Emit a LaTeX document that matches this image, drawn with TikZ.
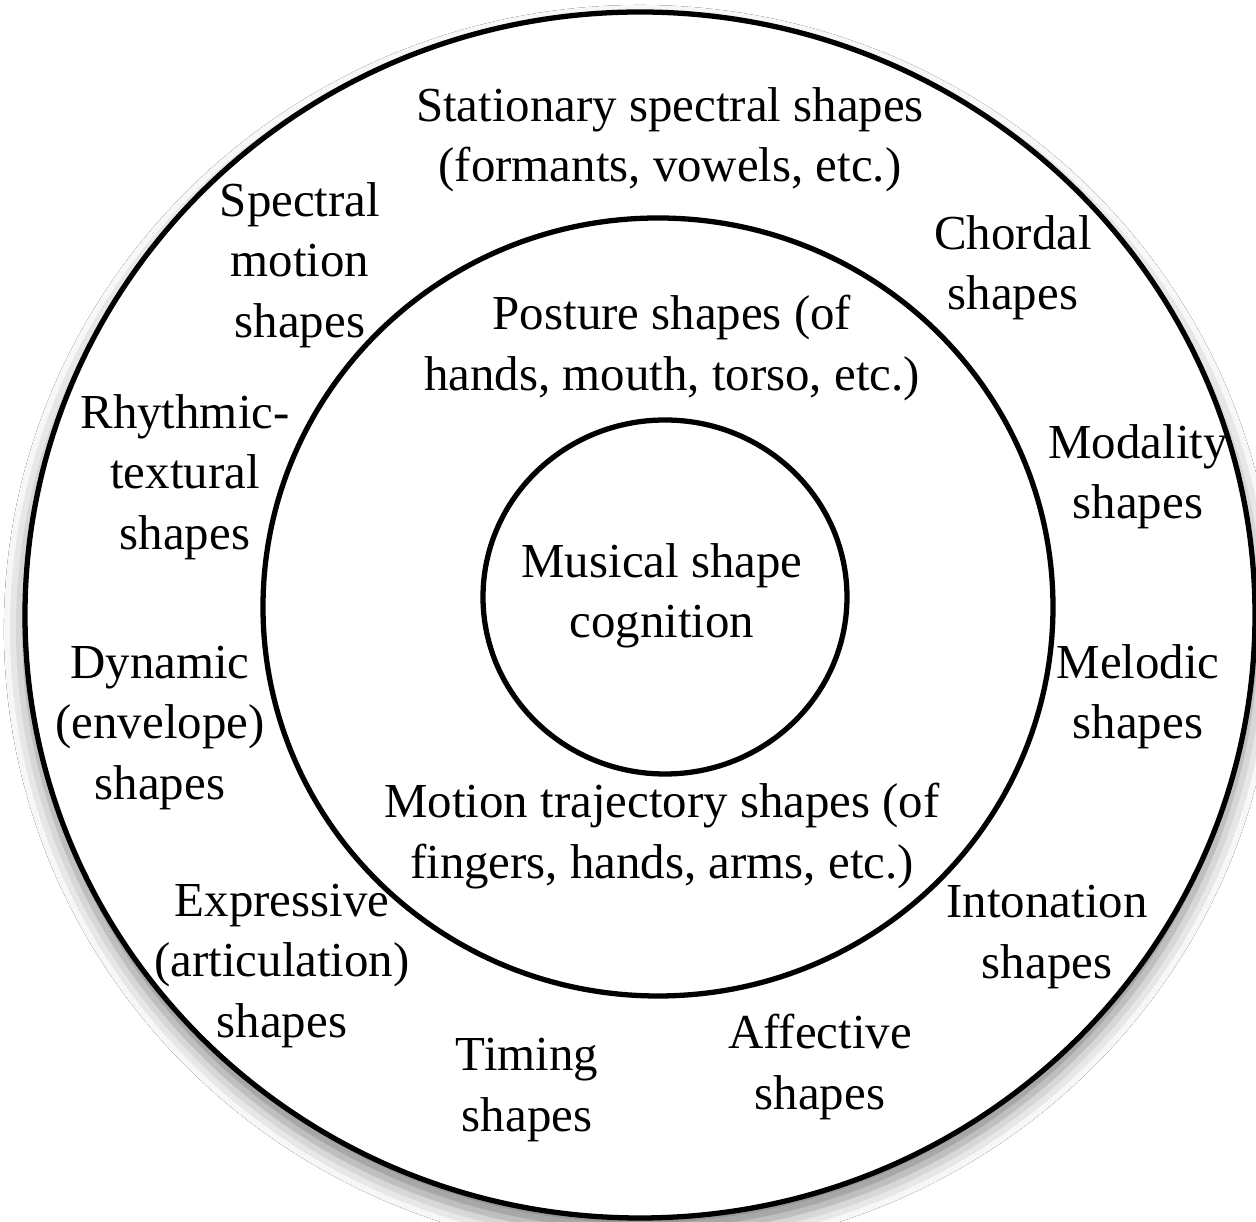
\documentclass[tikz,border=0pt]{standalone}
\usepackage{fontspec}
\setmainfont{Liberation Serif}
\usetikzlibrary{shadows.blur}

\begin{document}
\begin{tikzpicture}[x=0.01cm,y=-0.01cm,
  ring/.style={line width=1.5pt,draw=black},
  lbl/.style={align=center,inner sep=0pt,font=\fontsize{13.9}{17.2}\selectfont}]
\useasboundingbox (0,0) rectangle (1256,1222);
\fill[white] (0,0) rectangle (1256,1222);

\draw[ring,fill=white,blur shadow={shadow xshift=0pt,shadow yshift=-4pt,shadow blur radius=6pt,shadow opacity=50}]
  (640,615) ellipse [x radius=615,y radius=603];
\draw[ring] (658,607) ellipse [x radius=395,y radius=389];
\draw[ring] (665,597) ellipse [x radius=182,y radius=177];

\node[lbl] (stationary) at (670,140) {Stationary spectral shapes\\(formants, vowels, etc.)};
\node[lbl] (spectral)   at (300,265) {Spectral\\motion\\shapes};
\node[lbl] (chordal)    at (1013,268) {Chordal\\shapes};
\node[lbl] (posture)    at (672,348) {Posture shapes (of\\hands, mouth, torso, etc.)};
\node[lbl] (rhythmic)   at (185,477) {Rhythmic-\\textural\\shapes};
\node[lbl] (modality)   at (1138,477) {Modality\\shapes};
\node[lbl] (cognition)  at (662,596) {Musical shape\\cognition};
\node[lbl] (dynamic)    at (160,728) {Dynamic\\(envelope)\\shapes};
\node[lbl] (melodic)    at (1138,697) {Melodic\\shapes};
\node[lbl] (trajectory) at (662,836) {Motion trajectory shapes (of\\fingers, hands, arms, etc.)};
\node[lbl] (expressive) at (282,966) {Expressive\\(articulation)\\shapes};
\node[lbl] (intonation) at (1047,937) {Intonation\\shapes};
\node[lbl] (timing)     at (527,1090) {Timing\\shapes};
\node[lbl] (affective)  at (820,1067) {Affective\\shapes};
\end{tikzpicture}
\end{document}
